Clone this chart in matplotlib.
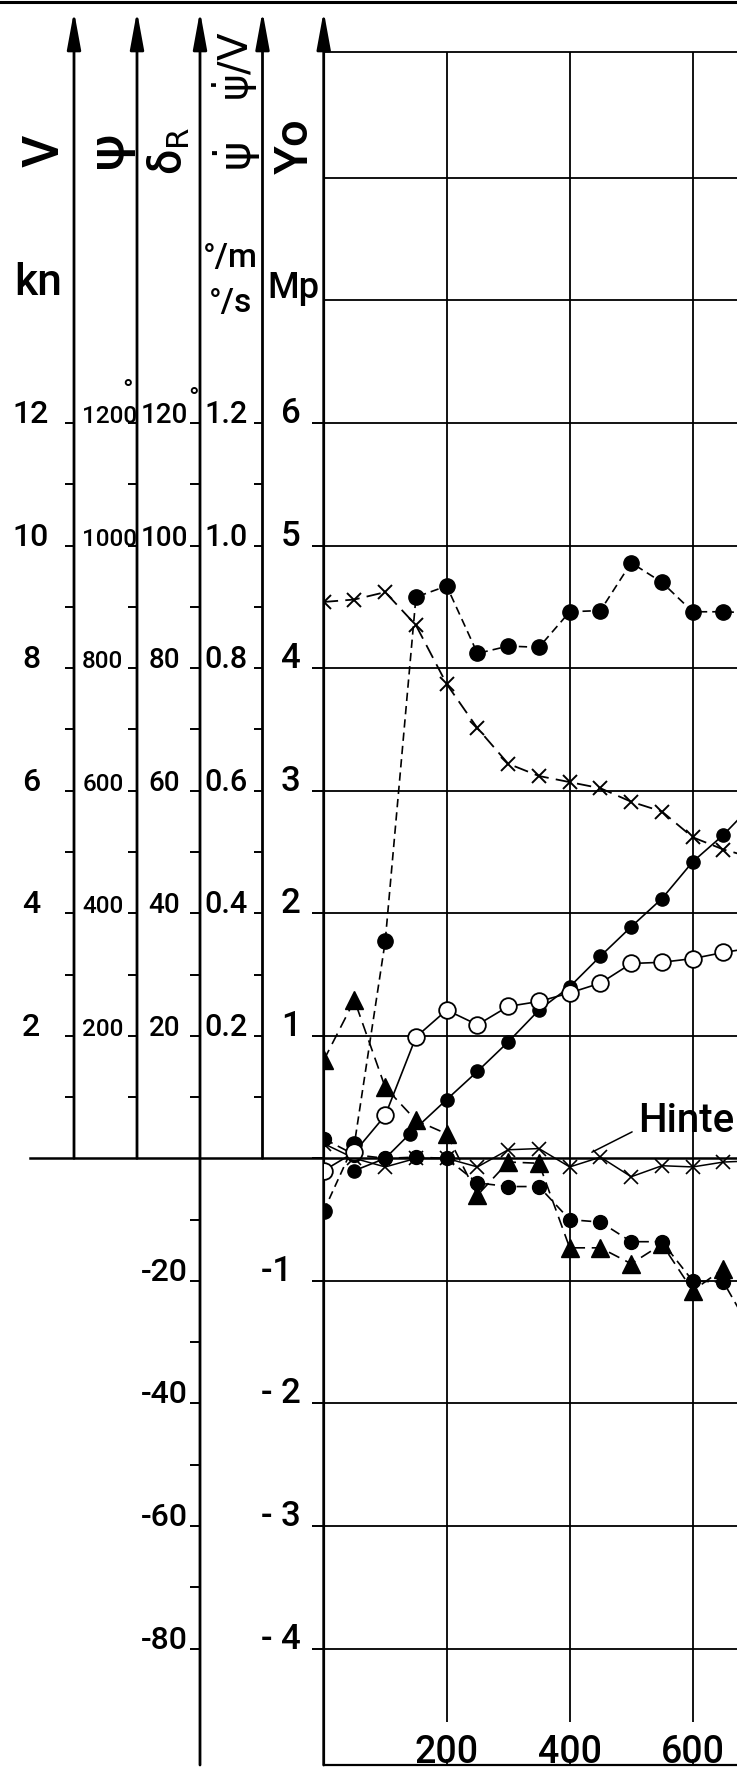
import matplotlib
matplotlib.use("Agg")
import matplotlib.pyplot as plt
from matplotlib.lines import Line2D

plt.rcParams['font.family'] = ['Roboto', 'DejaVu Sans']
plt.rcParams['font.weight'] = 'medium'
plt.rcParams['mathtext.fontset'] = 'dejavusans'

# ---- data (all curves in Mp units of the Y0 scale) ----
x_full = [0, 50, 100, 150, 200, 250, 300, 350, 400, 450, 500, 550, 600, 650, 700]

# dashed line with crosses (speed V)
v_cross = [4.54, 4.56, 4.62, 4.35, 3.87, 3.51, 3.22, 3.12, 3.07, 3.02, 2.91, 2.83, 2.62, 2.52, 2.45]
# dashed line with large dots
dot_dashed = [-0.43, 0.12, 1.77, 4.58, 4.67, 4.12, 4.18, 4.17, 4.46, 4.47, 4.86, 4.70, 4.46, 4.46, 4.45]
# solid straight line with dots
x_psi = [50, 100, 140, 200, 250, 300, 350, 400, 450, 500, 550, 600, 650, 700]
psi_dots = [-0.10, 0.00, 0.20, 0.48, 0.71, 0.95, 1.21, 1.40, 1.65, 1.89, 2.12, 2.42, 2.64, 2.90]
# solid line with open circles
open_circ = [-0.10, 0.05, 0.35, 0.99, 1.21, 1.09, 1.24, 1.28, 1.35, 1.43, 1.59, 1.60, 1.63, 1.68, 1.72]
# dashed line with triangles
x_tri = [0, 50, 100, 150, 200, 250, 300, 350, 400, 450, 500, 550, 600, 650]
tri = [0.80, 1.29, 0.58, 0.31, 0.20, -0.30, -0.03, -0.04, -0.73, -0.73, -0.86, -0.70, -1.08, -0.90]
# dashed line with dots near zero (rudder)
rudder = [0.16, 0.03, 0.00, 0.01, 0.00, -0.20, -0.23, -0.23, -0.50, -0.52, -0.68, -0.68, -1.00, -1.01, -1.45]
# solid line with crosses ("Hinte...")
hinten = [0.12, 0.00, -0.07, 0.00, 0.00, -0.07, 0.07, 0.08, -0.07, 0.01, -0.15, -0.06, -0.07, -0.03, -0.02]

x_ticks = [200, 400, 600]
y0_ticks = [-4, -3, -2, -1, 0, 1, 2, 3, 4, 5, 6]
y0_labels = ['- 4', '- 3', '- 2', '-1 ', '', '1', '2', '3', '4', '5', '6']

v_major = [2, 4, 6, 8, 10, 12]
v_minor = [1, 3, 5, 7, 9, 11]
psi_major = [200, 400, 600, 800, 1000, 1200]
psi_minor = [100, 300, 500, 700, 900, 1100]
dr_major = [-80, -60, -40, -20, 20, 40, 60, 80, 100, 120]
dr_minor = [-70, -50, -30, -10, 10, 30, 50, 70, 90, 110]
rate_major = [0.2, 0.4, 0.6, 0.8, 1.0, 1.2]
rate_minor = [0.1, 0.3, 0.5, 0.7, 0.9, 1.1]

W, H = 737, 1773
YLIM = (-4.95, 9.03)
TIP = 9.36
bottom = (H - 1765) / H
height = (1765 - 51.7) / H

fig = plt.figure(figsize=(W / 100, H / 100), dpi=100)
ax = fig.add_axes([323.7 / W, bottom, (W - 323.7) / W, height])
ax.set_xlim(0, 672)
ax.set_ylim(*YLIM)

for s in ['right', 'left']:
    ax.spines[s].set_visible(False)
ax.spines['top'].set_linewidth(1.3)
ax.spines['bottom'].set_linewidth(1.6)

# grid
ax.hlines([-4, -3, -2, -1, 1, 2, 3, 4, 5, 6, 7, 8], 0, 672, color='black', lw=1.3)
ax.vlines(x_ticks, -4.6, YLIM[1], color='black', lw=1.3)

ax.set_xticks(x_ticks, [str(v) for v in x_ticks])
ax.tick_params(axis='x', direction='in', length=4, width=1.3, pad=-1.5, labelsize=27)
plt.setp(ax.get_xticklabels(), va='baseline')
ax.set_yticks(y0_ticks, y0_labels)
ax.tick_params(axis='y', length=8.6, width=1.4, pad=8, labelsize=25)
plt.setp(ax.get_yticklabels(), va='baseline')

arrow = dict(arrowstyle='-|>,head_length=2.3,head_width=0.42', lw=2.0, color='black',
             shrinkA=0, shrinkB=0, mutation_scale=10)
ax.annotate('', xy=(0, TIP), xytext=(0, YLIM[0]), xycoords=('axes fraction', 'data'),
            textcoords=('axes fraction', 'data'), arrowprops=arrow, annotation_clip=False)

# curves
ax.plot(x_full, v_cross, color='black', lw=1.3, ls=(0, (8, 4)), marker='x', ms=10, mew=1.4)
ax.plot(x_full, dot_dashed, color='black', lw=1.2, ls=(0, (5, 3)), marker='o', ms=11)
ax.plot(x_psi, psi_dots, color='black', lw=1.2, ls='-', marker='o', ms=9.5)
ax.plot(x_full, open_circ, color='black', lw=1.2, ls='-', marker='o', ms=12,
        mfc='white', mew=1.3, zorder=3)
ax.plot(x_tri, tri, color='black', lw=1.2, ls=(0, (7, 4)), marker='^', ms=13)
ax.plot(x_full, rudder, color='black', lw=1.2, ls=(0, (6, 3.5)), marker='o', ms=10)
ax.plot(x_full, hinten, color='black', lw=1.1, ls='-', marker='x', ms=10, mew=1.2)

ax.annotate('Hinte', xy=(436, 0.05), xytext=(512, 0.215), fontsize=29,
            va='baseline', ha='left', annotation_clip=False,
            arrowprops=dict(arrowstyle='-', lw=1.1, color='black', shrinkA=3, shrinkB=0,
                            relpos=(0, 0.3)))


def scale_axis(xpx, k, major, labels, minor, lo, tick_len, pad, size, ha='right'):
    a = fig.add_axes([xpx / W, bottom, 0.0005, height])
    a.set_ylim(YLIM[0] * k, YLIM[1] * k)
    a.set_xticks([])
    a.patch.set_visible(False)
    for s in a.spines.values():
        s.set_visible(False)
    a.set_yticks(major, labels)
    a.set_yticks(minor, minor=True)
    a.tick_params(axis='y', which='both', length=tick_len, width=1.4, pad=pad, labelsize=size)
    plt.setp(a.get_yticklabels(), va='baseline', ha=ha)
    a.annotate('', xy=(0, TIP * k), xytext=(0, lo), xycoords=('axes fraction', 'data'),
               textcoords=('axes fraction', 'data'), arrowprops=arrow, annotation_clip=False)
    return a


scale_axis(74, 2, v_major, [str(v) for v in v_major], v_minor, 0, 6.5, 24.5, 23, ha='center')
psi_ax = scale_axis(137, 200, psi_major, [str(v) for v in psi_major], psi_minor, 0, 6.5, 33, 17.5,
                    ha='left')
dr_ax = scale_axis(200, 20, dr_major, [str(v) for v in dr_major], dr_minor, YLIM[0] * 20, 7, 18.7, 20,
                   ha='center')
for lab in dr_ax.get_yticklabels():
    if lab.get_text().startswith('-'):
        lab.set_fontsize(23)
scale_axis(262.5, 0.2, rate_major, ['%.1f' % v for v in rate_major], rate_minor, 0, 6.5, 4.5, 22)

# degree signs over the top labels of the angle scales
psi_ax.annotate('°', xy=(0, 1200), xytext=(-6.5, 17.6), xycoords=('axes fraction', 'data'),
                textcoords='offset points', ha='center', va='baseline', fontsize=20,
                annotation_clip=False)
dr_ax.annotate('°', xy=(0, 120), xytext=(-4.8, 11.7), xycoords=('axes fraction', 'data'),
               textcoords='offset points', ha='center', va='baseline', fontsize=20,
               annotation_clip=False)

# zero line across all scales
fig.add_artist(Line2D([30 / W, 1], [(H - 1158.3) / H] * 2, transform=fig.transFigure,
                      color='black', lw=1.8))
# top border
fig.add_artist(Line2D([0, 1], [1 - 1.5 / H] * 2, transform=fig.transFigure,
                      color='black', lw=2.2))


def px(x, y):
    return x / W, 1 - y / H


heads = [
    ('V', 45, 151, 36),
    ('ψ', 110, 150, 36),
    (r'δ$_\mathrm{R}$', 169, 151, 32),
    (r'$\dot{\mathrm{\psi}}$', 237, 157, 32),
    (r'$\dot{\mathrm{\psi}}/\mathrm{V}$', 235, 66, 29),
    ('Yo', 295, 146, 34),
]
for txt, x, y, s in heads:
    fig.text(*px(x, y), txt, rotation=90, ha='center', va='center', fontsize=s)

units = [('kn', 38, 283, 32), ('°/m', 230, 258, 24), ('°/s', 230, 303, 24), ('Mp', 293, 288, 26)]
for txt, x, y, s in units:
    fig.text(*px(x, y), txt, ha='center', va='center', fontsize=s)

fig.savefig('out.png', dpi=100)
